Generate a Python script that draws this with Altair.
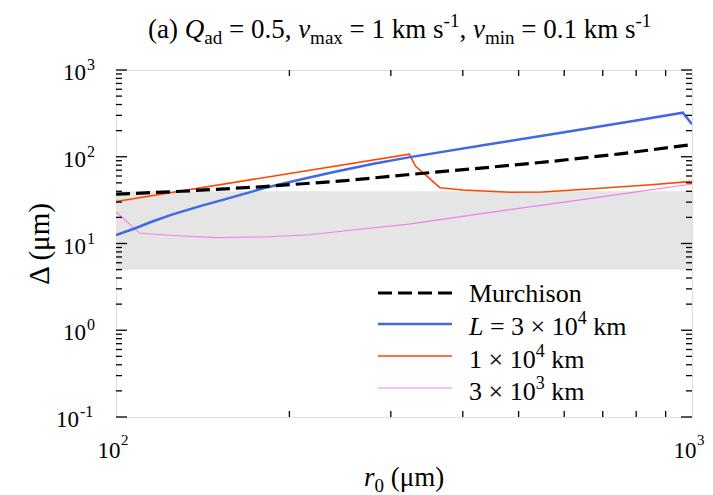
import altair as alt
import pandas as pd

# ---------------- data ----------------
r_murch = [100, 130, 178, 250, 320, 420, 567, 750, 1000]
v_murch = [37, 40, 45, 53, 62, 73, 88, 108, 138]

r_L3e4 = [100, 108, 115, 125, 140, 160, 181, 210, 240, 280, 324, 450, 600, 800, 964, 1000]
v_L3e4 = [12.5, 15, 17.7, 21.5, 27, 34.5, 43.6, 55, 67, 83, 99, 141, 192, 261, 322, 237]

r_L1e4 = [100, 323, 331, 365, 400, 483, 550, 692, 850, 1000]
v_L1e4 = [30.5, 107, 78, 44, 41.4, 39, 39.3, 43.3, 47.5, 52]

r_L3e3 = [100, 110, 130, 150, 180, 217, 260, 320, 450, 600, 800, 1000]
v_L3e3 = [23.3, 13.1, 12.2, 11.7, 11.9, 12.6, 14.4, 16.6, 23, 30, 39.4, 48.5]

band_r = [100, 1000]
band_lo = [5, 5]
band_hi = [40, 40]

x_label_vals = [100, 1000]
x_label_exps = ["2", "3"]
y_label_vals = [0.1, 1, 10, 100, 1000]
y_label_exps = ["-1", "0", "1", "2", "3"]

x_minor = [200, 300, 400, 500, 600, 700, 800, 900]
y_major = [0.1, 1, 10, 100, 1000]
y_minor = [m * d for d in [0.1, 1, 10, 100] for m in [2, 3, 4, 5, 6, 7, 8, 9]]

# ---------------- layout ----------------
FONT = "Liberation Serif"
L0, T0 = 116, 70          # plot area origin in page px
W, H = 576, 347

xs = alt.Scale(type="log", domain=[100, 1000], nice=False)
ys = alt.Scale(type="log", domain=[0.1, 1000], nice=False)

WID = {' ': 250, '(': 333, ')': 333, 'a': 444, 'd': 500, '=': 564, '.': 250, ',': 250,
       'k': 500, 'm': 778, 's': 389, '-': 333, 'x': 500, 'i': 278, 'n': 500, '×': 564,
       'M': 889, 'u': 500, 'r': 333, 'c': 444, 'h': 500, 'o': 500, 'μ': 576, 'Δ': 612}
IWID = {'Q': 722, 'v': 444, 'L': 556, 'r': 389}


def tw(s, size, italic=False):
    tot = 0
    for ch in s:
        if italic and ch in IWID:
            tot += IWID[ch]
        elif ch.isdigit():
            tot += 500
        else:
            tot += WID.get(ch, 500)
    return tot * size / 1000.0


def txt(s, x, y, size, italic=False, align="left", baseline="alphabetic", angle=0):
    return alt.Chart(alt.Data(values=[{}])).mark_text(
        text=s, font=FONT, fontSize=size, fontStyle="italic" if italic else "normal",
        align=align, baseline=baseline, angle=angle, color="black"
    ).encode(x=alt.value(x - L0), y=alt.value(y - T0))


def runs(segs, x0, base):
    out = []
    x = x0
    for s, size, italic, shift in segs:
        lead = len(s) - len(s.lstrip(' '))
        x += lead * 250 * size / 1000.0
        core = s.strip(' ')
        if core:
            out.append(txt(core, x, base + shift, size, italic))
        x += tw(core, size, italic)
        trail = len(s) - len(s.rstrip(' '))
        x += trail * 250 * size / 1000.0
    return out


TS, SS = 27, 19
title_segs = [("(a) ", TS, False, 0), ("Q", TS, True, 0), ("ad", SS, False, 6),
              (" = 0.5, ", TS, False, 0), ("v", TS, True, 0), ("max", SS, False, 6),
              (" = 1 km s", TS, False, 0), ("-1", SS, False, -11), (", ", TS, False, 0),
              ("v", TS, True, 0), ("min", SS, False, 6), (" = 0.1 km s", TS, False, 0),
              ("-1", SS, False, -11)]

LS, LSS = 26, 18
leg_x = 469
leg_rows = [
    ([("Murchison", LS, False, 0)], 302, 293, "black", 3.2, [14, 6]),
    ([("L", LS, True, 0), (" = 3 × 10", LS, False, 0), ("4", LSS, False, -11), (" km", LS, False, 0)],
     335, 324, "#4169E1", 2.5, None),
    ([("1 × 10", LS, False, 0), ("4", LSS, False, -11), (" km", LS, False, 0)], 368, 356, "#FF4500", 1.6, None),
    ([("3 × 10", LS, False, 0), ("3", LSS, False, -11), (" km", LS, False, 0)], 400, 388, "#EE82EE", 1.1, None),
]

layers = []

# grey band
band_df = pd.DataFrame({"r": band_r, "lo": band_lo, "hi": band_hi})
layers.append(alt.Chart(band_df).mark_area(color="#e5e5e5", opacity=1).encode(
    x=alt.X("r:Q", scale=xs, axis=None),
    y=alt.Y("lo:Q", scale=ys, axis=None),
    y2="hi:Q"))


def curve(rv, vv, color, width, dash=None):
    df = pd.DataFrame({"r": rv, "v": vv})
    kw = dict(color=color, strokeWidth=width, clip=True)
    if dash:
        kw["strokeDash"] = dash
    return alt.Chart(df).mark_line(**kw).encode(
        x=alt.X("r:Q", scale=xs, axis=None),
        y=alt.Y("v:Q", scale=ys, axis=None))


layers.append(curve(r_L3e3, v_L3e3, "#EE82EE", 1.1))
layers.append(curve(r_L1e4, v_L1e4, "#FF4500", 1.6))
layers.append(curve(r_L3e4, v_L3e4, "#4169E1", 2.5))
layers.append(curve(r_murch, v_murch, "black", 3.2, [14, 6]))


# inward ticks
def yticks(vals, length):
    df = pd.DataFrame({"v": vals})
    left = alt.Chart(df).mark_rule(color="black", strokeWidth=1.3).encode(
        y=alt.Y("v:Q", scale=ys, axis=None), x=alt.value(0), x2=alt.value(length))
    right = alt.Chart(df).mark_rule(color="black", strokeWidth=1.3).encode(
        y=alt.Y("v:Q", scale=ys, axis=None), x=alt.value(W - length), x2=alt.value(W))
    return [left, right]


def xticks(vals, length):
    df = pd.DataFrame({"r": vals})
    bot = alt.Chart(df).mark_rule(color="black", strokeWidth=1.3).encode(
        x=alt.X("r:Q", scale=xs, axis=None), y=alt.value(H - length), y2=alt.value(H))
    top = alt.Chart(df).mark_rule(color="black", strokeWidth=1.3).encode(
        x=alt.X("r:Q", scale=xs, axis=None), y=alt.value(0), y2=alt.value(length))
    return [bot, top]


layers += yticks(y_major, 11)
layers += yticks(y_minor, 6)
layers += xticks(x_minor, 6)

# x tick labels
xl_df = pd.DataFrame({"r": x_label_vals, "e": x_label_exps})
layers.append(alt.Chart(xl_df).mark_text(font=FONT, fontSize=23, align="center", dx=-7, color="black").encode(
    x=alt.X("r:Q", scale=xs, axis=None), y=alt.value(451 - T0), text=alt.value("10")))
layers.append(alt.Chart(xl_df).mark_text(font=FONT, fontSize=15, align="left", dx=5, color="black").encode(
    x=alt.X("r:Q", scale=xs, axis=None), y=alt.value(440 - T0), text="e:N"))

# y tick labels
yl_df = pd.DataFrame({"v": y_label_vals, "e": y_label_exps})
ybase = alt.Chart(yl_df).transform_calculate(
    xp=f"86 - (length(datum.e) - 1) * 7 - {L0}")
layers.append(ybase.mark_text(font=FONT, fontSize=23, align="right", baseline="alphabetic", dy=10, color="black").encode(
    x=alt.X("xp:Q", scale=None), y=alt.Y("v:Q", scale=ys, axis=None), text=alt.value("10")))
layers.append(ybase.mark_text(font=FONT, fontSize=16, align="left", baseline="alphabetic", dx=1, dy=0, color="black").encode(
    x=alt.X("xp:Q", scale=None), y=alt.Y("v:Q", scale=ys, axis=None), text="e:N"))

# title
layers += runs(title_segs, 148, 38)

# axis titles
layers += runs([("r", 27, True, 0), ("0", 19, False, 6), (" (μm)", 27, False, 0)], 364, 486)
layers.append(txt("Δ (μm)", 40, 244, 29, align="center", baseline="middle", angle=270))

# legend
for segs, base, ly, col, wdt, dash in leg_rows:
    kw = dict(color=col, strokeWidth=wdt)
    if dash:
        kw["strokeDash"] = dash
    layers.append(alt.Chart(alt.Data(values=[{}])).mark_rule(**kw).encode(
        x=alt.value(378 - L0), x2=alt.value(452 - L0), y=alt.value(ly - T0)))
    layers += runs(segs, leg_x, base)

chart = alt.layer(*layers).properties(
    width=W, height=H,
    autosize=alt.AutoSizeParams(type="none"),
    padding={"left": L0 - 8, "top": T0 - 8, "right": 713 - 16 - (L0 - 8) - W, "bottom": 80},
).configure_view(stroke="black", strokeWidth=2).configure(font=FONT)

chart.save("out.html", embed_options={"renderer": "svg", "actions": False})
